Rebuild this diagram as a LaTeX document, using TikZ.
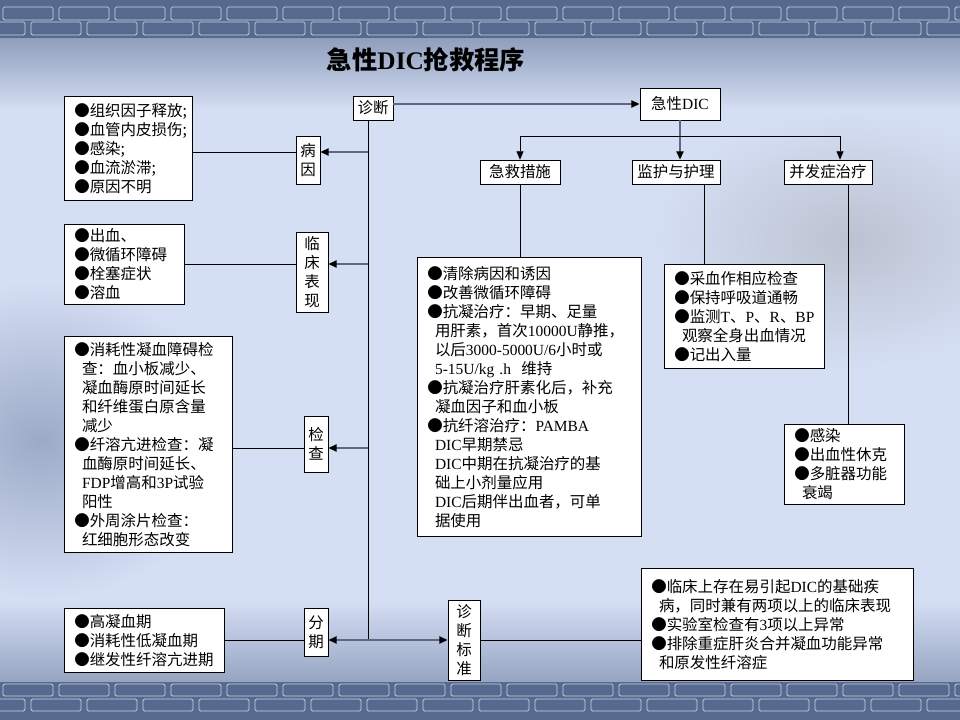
\documentclass[tikz,border=0pt]{standalone}
\usepackage{fontspec}
\setmainfont{Noto Sans CJK SC}
\newfontfamily\en{Liberation Serif}
\usetikzlibrary{arrows.meta}

\definecolor{bgblue}{HTML}{D5DFF4}
\definecolor{wallblue}{HTML}{56698F}
\definecolor{arrowgray}{HTML}{5E6884}

\newcommand{\lstfont}{\fontsize{11}{13.5}\selectfont}
\newcommand{\indt}{\hspace*{.5em}}

\tikzset{
  lst/.style={draw, fill=white, anchor=north west, align=left, inner xsep=0.25cm, inner ysep=0pt, font=\lstfont},
  tag/.style={draw, fill=white, align=center, inner sep=0pt, font=\lstfont},
  head/.style={draw, fill=white, inner sep=0pt, font=\lstfont},
  garrow/.style={arrowgray, line width=1.9pt, -{Triangle[length=6pt,width=5pt,color=black]}},
  barrow/.style={black, -{Triangle[length=6pt,width=5pt]}},
  link/.style={black},
  brick/.style={draw=white!70!wallblue, line width=0.6pt, rounded corners=1pt}
}

\begin{document}
\begin{tikzpicture}[x=0.025cm, y=-0.025cm]
  \useasboundingbox (0,0) rectangle (960,720);
  % background
  \fill[bgblue] (0,0) rectangle (960,720);
  \shade[inner color=gray!30!bgblue, outer color=bgblue] (850,240) ellipse (200 and 130);
  \shade[inner color=wallblue!45!bgblue, outer color=bgblue] (40,440) ellipse (190 and 160);
  \shade[top color=wallblue!55!bgblue, bottom color=bgblue] (0,38) rectangle (960,110);
  \shade[top color=bgblue, bottom color=wallblue!50!bgblue] (0,600) rectangle (960,682);
  \fill[wallblue] (0,0) rectangle (960,38);
  \fill[wallblue] (0,682) rectangle (960,720);
  \foreach \x in {0,56,...,952}{
    \draw[brick] (\x+3,7) rectangle ++(50,13);
    \draw[brick] (\x-25,22) rectangle ++(50,13);
    \draw[brick] (\x+3,684) rectangle ++(50,12);
    \draw[brick] (\x-25,699) rectangle ++(50,12);
  }

  \node[font=\fontsize{18}{21}\selectfont\bfseries] (title) at (426,60) {急性{\en DIC}抢救程序};

  % heads
  \node[head, minimum width=1cm, minimum height=0.6cm] (zd) at (373,108) {诊断};
  \node[head, minimum width=2cm, minimum height=0.8cm] (jx) at (680,104) {急性{\en DIC}};
  \node[head, minimum width=2cm, minimum height=0.6cm] (jjcs) at (520,172) {急救措施};
  \node[head, minimum width=2.2cm, minimum height=0.6cm] (hl) at (676,172) {监护与护理};
  \node[head, minimum width=2.2cm, minimum height=0.6cm] (bf) at (828,172) {并发症治疗};

  % tags on the trunk
  \node[tag, minimum width=0.6cm, minimum height=1.2cm] (by) at (308,160) {病\\因};
  \node[tag, minimum width=0.8cm, minimum height=2cm] (lc) at (312,272) {临\\床\\表\\现};
  \node[tag, minimum width=0.6cm, minimum height=1.4cm] (jc) at (316,444) {检\\查};
  \node[tag, minimum width=0.6cm, minimum height=1.2cm] (fq) at (316,632) {分\\期};
  \node[tag, minimum width=0.8cm, minimum height=2cm] (zdbz) at (464,640) {诊\\断\\标\\准};

  % lists
  \node[lst, text width=2.7cm, minimum height=2.6cm] (bylst) at (64,96)
    {●组织因子释放;\\●血管内皮损伤;\\●感染;\\●血流淤滞;\\●原因不明};
  \node[lst, text width=2.5cm, minimum height=2cm] (lclst) at (64,224)
    {●出血、\\●微循环障碍\\●栓塞症状\\●溶血};
  \node[lst, text width=3.7cm, minimum height=5.4cm] (jclst) at (64,336)
    {●消耗性凝血障碍检\\\indt 查：血小板减少、\\\indt 凝血酶原时间延长\\\indt 和纤维蛋白原含量\\\indt 减少\\
     ●纤溶亢进检查：凝\\\indt 血酶原时间延长、\\\indt {\en FDP}增高和{\en 3P}试验\\\indt 阳性\\
     ●外周涂片检查：\\\indt 红细胞形态改变};
  \node[lst, text width=3.5cm, minimum height=1.6cm] (fqlst) at (64,608)
    {●高凝血期\\●消耗性低凝血期\\●继发性纤溶亢进期};
  \node[lst, text width=5.1cm, minimum height=6.975cm] (jjbox) at (417,257)
    {●清除病因和诱因\\●改善微循环障碍\\●抗凝治疗：早期、足量\\
     \indt 用肝素，首次{\en 10000U}静推，\\\indt 以后{\en 3000-5000U/6}小时或\\\indt {\en 5-15U/kg .h}\ \ 维持\\
     ●抗凝治疗肝素化后，补充\\\indt 凝血因子和血小板\\●抗纤溶治疗：{\en PAMBA}\\
     \indt {\en DIC}早期禁忌\\\indt {\en DIC}中期在抗凝治疗的基\\\indt 础上小剂量应用\\
     \indt {\en DIC}后期伴出血者，可单\\\indt 据使用};
  \node[lst, text width=3.5cm, minimum height=2.6cm] (hlbox) at (664,264)
    {●采血作相应检查\\●保持呼吸道通畅\\●监测{\en T}、{\en P}、{\en R}、{\en BP}\\\indt 观察全身出血情况\\●记出入量};
  \node[lst, text width=2.5cm, minimum height=2cm] (bfbox) at (784,424)
    {●感染\\●出血性休克\\●多脏器功能\\\indt 衰竭};
  \node[lst, text width=6.3cm, minimum height=2.8cm] (bzbox) at (641,568)
    {●临床上存在易引起{\en DIC}的基础疾\\\indt 病，同时兼有两项以上的临床表现\\
     ●实验室检查有{\en 3}项以上异常\\●排除重症肝炎合并凝血功能异常\\\indt 和原发性纤溶症};

  % connectors
  \coordinate (fork) at (680,136);
  \coordinate (t1) at (368,152);
  \coordinate (t2) at (368,264);
  \coordinate (t3) at (368,448);
  \coordinate (tend) at (368,640);
  \draw[garrow] (jx.west -| zd.east) -- (jx.west);
  \draw[garrow] (jx.south) -- (jx.south |- hl.north);
  \draw[barrow] (fork) -| (jjcs.north);
  \draw[barrow] (fork) -| ([xshift=0.3cm]bf.north);
  \draw[link] (jjcs.south) -- (jjcs.south |- jjbox.north);
  \draw[link] ([xshift=0.7cm]hl.south) -- ([xshift=0.7cm]hl.south |- hlbox.north);
  \draw[link] ([xshift=0.5cm]bf.south) -- ([xshift=0.5cm]bf.south |- bfbox.north);

  \draw[link] (zd.south -| tend) -- (tend);
  \draw[garrow] (t1) -- (t1 -| by.east);
  \draw[garrow] (t2) -- (t2 -| lc.east);
  \draw[garrow] (t3) -- (t3 -| jc.east);
  \draw[garrow] (tend) -- (tend -| fq.east);
  \draw[garrow] (tend) -- (zdbz.west);
  \draw[link] (t1 -| bylst.east) -- (t1 -| by.west);
  \draw[link] (t2 -| lclst.east) -- (t2 -| lc.west);
  \draw[link] (t3 -| jclst.east) -- (t3 -| jc.west);
  \draw[link] (tend -| fqlst.east) -- (tend -| fq.west);
  \draw[link] (zdbz.east) -- (zdbz.east -| bzbox.west);
\end{tikzpicture}
\end{document}
